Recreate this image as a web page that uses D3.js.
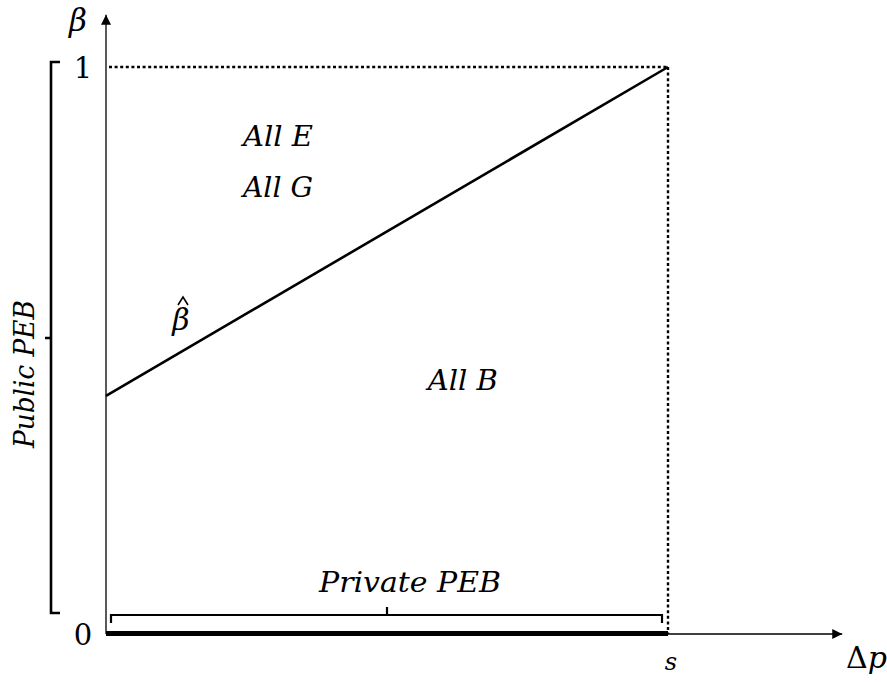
<!DOCTYPE html>
<html>
<head>
<meta charset="utf-8">
<script src="https://cdn.jsdelivr.net/npm/d3@7"></script>
<style>
  html, body { margin: 0; padding: 0; background: #fff; }
  svg text { font-family: "DejaVu Serif", serif; font-style: italic; fill: #000; }
</style>
</head>
<body>
<svg id="chart" width="887" height="682"></svg>
<script>
// Threshold line β̂(Δp): from the intercept at Δp = 0 up to β = 1 at Δp = s
const betaHatDp = [0, 1];
const betaHatVals = [0.42, 1];

// Axis tick labels
const yTickVals = [0, 1];
const yTickLabels = ["0", "1"];
const xTickVals = [1];
const xTickLabels = ["s"];

// Region labels (Δp, β) in units of s
const regionText = ["All E", "All G", "All B"];
const regionDp = [0.306, 0.306, 0.635];
const regionBeta = [0.86, 0.77, 0.43];

const svg = d3.select("#chart");

const x = d3.scaleLinear().domain([0, 1]).range([106, 668]);
const y = d3.scaleLinear().domain([0, 1]).range([634, 67]);
const xAxisEnd = 1.31;   // arrow tip beyond s
const yAxisEnd = 1.092;  // arrow tip beyond β = 1

// arrowheads
const defs = svg.append("defs");
defs.append("marker").attr("id", "arrow").attr("viewBox", "0 0 10 10")
  .attr("refX", 10).attr("refY", 5).attr("markerWidth", 11).attr("markerHeight", 10)
  .attr("markerUnits", "userSpaceOnUse").attr("orient", "auto")
  .append("path").attr("d", "M0,0 L10,5 L0,10 Z").attr("fill", "#000");

// axes
svg.append("line")
  .attr("x1", x(0)).attr("y1", y(0)).attr("x2", x(xAxisEnd)).attr("y2", y(0))
  .attr("stroke", "#000").attr("stroke-width", 1.3).attr("marker-end", "url(#arrow)");
svg.append("line")
  .attr("x1", x(0)).attr("y1", y(0)).attr("x2", x(0)).attr("y2", y(yAxisEnd))
  .attr("stroke", "#000").attr("stroke-width", 1.3).attr("marker-end", "url(#arrow)");

// dotted bounds at β = 1 and Δp = s
svg.append("line")
  .attr("x1", x(0) + 3).attr("y1", y(1)).attr("x2", x(1)).attr("y2", y(1))
  .attr("stroke", "#000").attr("stroke-width", 2.4).attr("stroke-dasharray", "3,2.6");
svg.append("line")
  .attr("x1", x(1)).attr("y1", y(1)).attr("x2", x(1)).attr("y2", y(0))
  .attr("stroke", "#000").attr("stroke-width", 2.4).attr("stroke-dasharray", "3,2.6");

// thick segment on the Δp axis between 0 and s
svg.append("line")
  .attr("x1", x(0)).attr("y1", y(0) - 0.5).attr("x2", x(1)).attr("y2", y(0) - 0.5)
  .attr("stroke", "#000").attr("stroke-width", 5);

// β̂ line
const line = d3.line().x(d => x(d[0])).y(d => y(d[1]));
svg.append("path")
  .datum(d3.zip(betaHatDp, betaHatVals))
  .attr("d", line).attr("fill", "none").attr("stroke", "#000").attr("stroke-width", 2.6);

// tick labels
svg.selectAll(".ytl").data(yTickVals).enter().append("text")
  .attr("x", 83).attr("y", d => y(d) + 11)
  .attr("text-anchor", "middle").style("font-style", "normal")
  .style("font-size", "29px").text((d, i) => yTickLabels[i]);
svg.selectAll(".xtl").data(xTickVals).enter().append("text")
  .attr("x", d => x(d) + 3).attr("y", 670)
  .attr("text-anchor", "middle").style("font-size", "24px").text((d, i) => xTickLabels[i]);

// axis titles
svg.append("text").attr("x", 78).attr("y", 31).attr("text-anchor", "middle")
  .style("font-size", "31px").text("β");
const dpTitle = svg.append("text").attr("x", 846).attr("y", 668).style("font-size", "30px");
dpTitle.append("tspan").style("font-style", "normal").text("Δ");
dpTitle.append("tspan").text("p");

// region labels
svg.selectAll(".region").data(regionText).enter().append("text")
  .attr("x", (d, i) => x(regionDp[i])).attr("y", (d, i) => y(regionBeta[i]))
  .attr("text-anchor", "middle").style("font-size", "28px")
  .attr("textLength", 70).attr("lengthAdjust", "spacingAndGlyphs")
  .text(d => d);

// β̂ label next to the line, with its hat
svg.append("text").attr("x", 181).attr("y", 330).attr("text-anchor", "middle")
  .style("font-size", "30px").text("β");
svg.append("path")
  .attr("d", "M178,305 L183,297 L188,305")
  .attr("fill", "none").attr("stroke", "#000").attr("stroke-width", 1.6);

// bracket for Public PEB along β
const bx = 51, bTop = 62, bBot = 613, bMid = 338;
svg.append("path")
  .attr("d", `M${bx + 9},${bTop} H${bx} V${bBot} H${bx + 9} M${bx},${bMid} H${bx - 6}`)
  .attr("fill", "none").attr("stroke", "#000").attr("stroke-width", 2.6);
svg.append("text")
  .attr("transform", "translate(34,374) rotate(-90)")
  .attr("text-anchor", "middle").style("font-size", "28px")
  .attr("textLength", 148).attr("lengthAdjust", "spacingAndGlyphs")
  .text("Public PEB");

// bracket for Private PEB along Δp
const hy = 615, hl = x(0) + 5, hr = x(1) - 6, hm = 387;
svg.append("path")
  .attr("d", `M${hl},${hy + 8} V${hy} H${hr} V${hy + 8} M${hm},${hy} V${hy - 8}`)
  .attr("fill", "none").attr("stroke", "#000").attr("stroke-width", 2.2);
svg.append("text").attr("x", 410).attr("y", 592).attr("text-anchor", "middle")
  .style("font-size", "28px")
  .attr("textLength", 182).attr("lengthAdjust", "spacingAndGlyphs")
  .text("Private PEB");
</script>
</body>
</html>
